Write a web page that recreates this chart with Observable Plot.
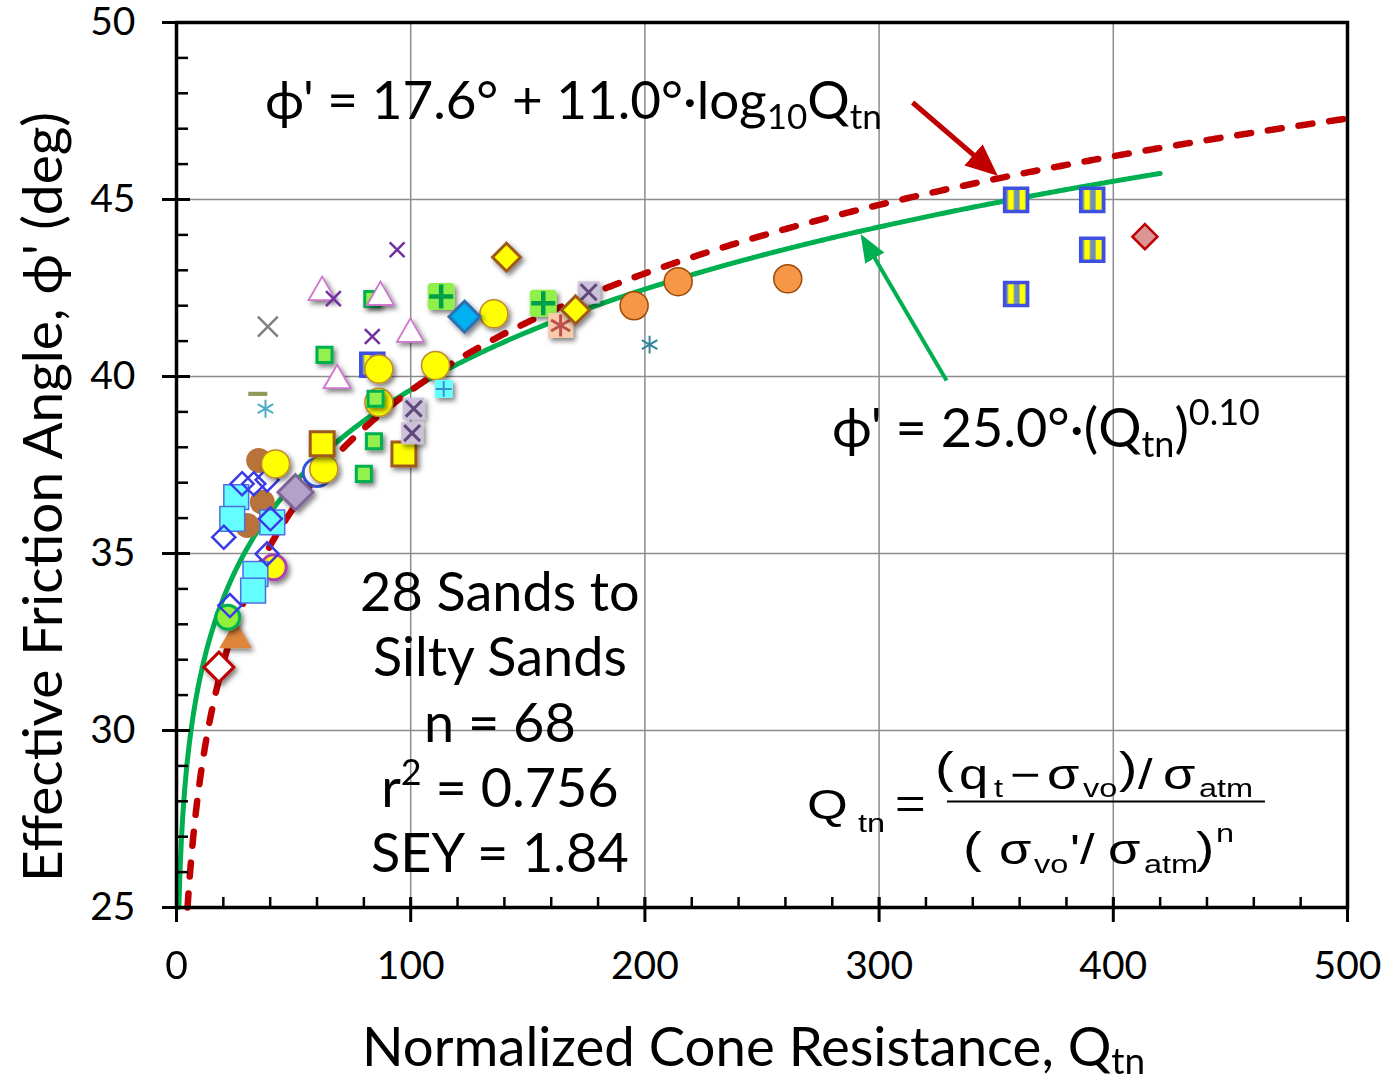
<!DOCTYPE html>
<html lang="en">
<head>
<meta charset="utf-8">
<title>Effective friction angle vs normalized cone resistance</title>
<script src="https://cdn.jsdelivr.net/npm/d3@7"></script>
<script src="https://cdn.jsdelivr.net/npm/@observablehq/plot@0.6"></script>
<style>
  html, body { margin: 0; padding: 0; background: #fff; }
  #chart svg { display: block; }
</style>
</head>
<body>
<div id="chart"></div>
<script>
// Fitted relations: ϕ' = A + B·log10(Qtn)  and  ϕ' = C·Qtn^P
const LOG_A = 17.6, LOG_B = 11.0;
const POW_C = 25.0, POW_P = 0.10;

const xTicksMajor = [0, 100, 200, 300, 400, 500];
const xTicksMinor = d3.range(0, 501, 20);
const yTicksMajor = [25, 30, 35, 40, 45, 50];
const yTicksMinor = d3.range(25, 51, 1);
const xGrid = [100, 200, 300, 400];
const yGrid = [30, 35, 40, 45];

// Test results, [Qtn, ϕ' (deg)], grouped by marker style
const stripedSquares      = [[358.5, 44.99], [391.0, 44.99], [391.0, 43.58], [358.5, 42.33], [83.6, 40.33]];
const blueRingCircle      = [[60.1, 37.29]];
const brownCircles        = [[35.1, 37.63], [36.6, 36.45], [30.2, 35.79]];
const purpleRimCircle     = [[41.5, 34.61]];
const orangeTriangle      = [[25.2, 32.59]];
const greenCircle         = [[21.9, 33.2]];
const cyanSquares         = [[25.5, 36.59], [23.8, 35.98], [40.9, 35.88], [33.7, 34.42], [32.7, 33.95]];
const blueOpenDiamonds    = [[28.0, 36.97], [33.0, 36.97], [38.7, 37.08], [40.1, 35.98], [20.2, 35.46], [38.7, 34.99], [22.8, 33.53]];
const redOpenDiamond      = [[18.1, 31.79]];
const lavenderDiamond     = [[50.8, 36.73]];
const yellowCircles       = [[86.4, 40.21], [110.6, 40.31], [86.4, 39.27], [42.3, 37.53], [62.9, 37.39], [135.5, 41.77]];
const greenSquares        = [[83.6, 42.19], [63.2, 40.61], [85.0, 39.37], [84.3, 38.17], [80.0, 37.25]];
const yellowSquares       = [[62.2, 38.1], [97.1, 37.81]];
const lavenderCrossSquares= [[101.3, 39.09], [100.6, 38.4], [176.0, 42.38]];
const pinkTriangles       = [[62.2, 42.38], [87.1, 42.24], [99.9, 41.2], [68.6, 39.89]];
const purpleCrosses       = [[94.2, 43.58], [67.0, 42.2], [83.6, 41.13]];
const grayCross           = [[39.0, 41.41]];
const cyanStar            = [[38.0, 39.09]];
const oliveDash           = [[34.7, 39.51]];
const cyanPlusSquare      = [[114.1, 39.65]];
const greenPlusSquares    = [[113.0, 42.26], [156.6, 42.07]];
const blueDiamond         = [[123.0, 41.69]];
const peachStarSquare     = [[164.0, 41.44]];
const yellowDiamonds      = [[140.9, 43.37], [170.4, 41.88]];
const orangeCircles       = [[195.4, 42.0], [214.2, 42.68], [261.0, 42.76]];
const tealStar            = [[202.0, 40.9]];
const roseDiamond         = [[413.5, 43.95]];

// Callout arrows, from tail to head, in (Qtn, ϕ')
const logArrow = [{q1: 314.3, p1: 47.74, q2: 348.6, p2: 45.79}];
const powArrow = [{q1: 328.8, p1: 39.89, q2: 293.3, p2: 43.89}];

// Fitted curves
const powCurve = d3.range(1, 420.001, 0.5).map(q => [q, POW_C * Math.pow(q, POW_P)]);
const logStart = Math.pow(10, (25 - LOG_A) / LOG_B);
const logCurve = [logStart, ...d3.range(5, 500.001, 0.5)].map(q => [q, LOG_A + LOG_B * Math.log10(q)]);

// Custom marker shapes
const roundedSquare = {
  draw(ctx, size) {
    const h = Math.sqrt(size) / 2, k = h * 0.28;
    ctx.moveTo(-h + k, -h); ctx.lineTo(h - k, -h); ctx.arcTo(h, -h, h, -h + k, k);
    ctx.lineTo(h, h - k); ctx.arcTo(h, h, h - k, h, k);
    ctx.lineTo(-h + k, h); ctx.arcTo(-h, h, -h, h - k, k);
    ctx.lineTo(-h, -h + k); ctx.arcTo(-h, -h, -h + k, -h, k);
    ctx.closePath();
  }
};
const dash = {
  draw(ctx, size) {
    const w = Math.sqrt(size / Math.PI);
    ctx.rect(-w, -w * 0.22, 2 * w, w * 0.44);
  }
};

// Draw order, bottom to top
const layers = [
  {data: stripedSquares, symbol: "square", r: 13, fill: "url(#stripes)", stroke: "#3f4fe0", strokeWidth: 3.5},
  {data: blueRingCircle, symbol: "circle", r: 14, fill: "#fff", stroke: "#3355dd", strokeWidth: 3},
  {data: brownCircles, symbol: "circle", r: 12.5, fill: "#b8733a", stroke: "none"},
  {data: purpleRimCircle, symbol: "circle", r: 12.5, fill: "#ffff00", stroke: "#b040b0", strokeWidth: 3, shadow: true},
  {data: orangeTriangle, symbol: "triangle2", r: 15.5, fill: "#dc853a", stroke: "none", shadow: true},
  {data: greenCircle, symbol: "circle", r: 12, fill: "#92f03c", stroke: "#00b050", strokeWidth: 3, shadow: true},
  {data: cyanSquares, symbol: "square", r: 14, fill: "#66ffff", stroke: "#4f6fe0", strokeWidth: 1.5},
  {data: blueOpenDiamonds, symbol: "diamond2", r: 10.4, fill: "none", stroke: "#3a3ae6", strokeWidth: 2.5},
  {data: redOpenDiamond, symbol: "diamond2", r: 13.5, fill: "#fff", stroke: "#c00000", strokeWidth: 3, shadow: true},
  {data: lavenderDiamond, symbol: "diamond2", r: 15.8, fill: "#b3a2c7", stroke: "#7f6499", strokeWidth: 3, shadow: true},
  {data: yellowCircles, symbol: "circle", r: 14, fill: "#ffff00", stroke: "#c08a2a", strokeWidth: 1.5, shadow: true},
  {data: greenSquares, symbol: "square", r: 8.5, fill: "#92f050", stroke: "#00b050", strokeWidth: 3, shadow: true},
  {data: yellowSquares, symbol: "square", r: 13.5, fill: "#ffff00", stroke: "#9c5a1c", strokeWidth: 3, shadow: true},
  {data: lavenderCrossSquares, symbol: "square", r: 12.4, fill: "#ccc0da", stroke: "none", shadow: true},
  {data: lavenderCrossSquares, symbol: "times", r: 7.3, fill: "none", stroke: "#5f497a", strokeWidth: 3},
  {data: pinkTriangles, symbol: "triangle2", r: 12.9, fill: "#fff", stroke: "#cc77cc", strokeWidth: 1.8, shadow: true},
  {data: purpleCrosses, symbol: "times", r: 6.8, fill: "none", stroke: "#7030a0", strokeWidth: 2.5},
  {data: grayCross, symbol: "times", r: 9.1, fill: "none", stroke: "#808080", strokeWidth: 2.5},
  {data: cyanStar, symbol: "asterisk", r: 8.5, fill: "none", stroke: "#4bacc6", strokeWidth: 2},
  {data: oliveDash, symbol: dash, r: 9.5, fill: "#8f9a58", stroke: "none"},
  {data: cyanPlusSquare, symbol: "square", r: 10.2, fill: "#66ffff", stroke: "none", shadow: true},
  {data: cyanPlusSquare, symbol: "plus", r: 5.2, fill: "none", stroke: "#3b8fcf", strokeWidth: 2},
  {data: greenPlusSquares, symbol: roundedSquare, r: 15.2, fill: "#8ef04a", stroke: "none", shadow: true},
  {data: greenPlusSquares, symbol: "plus", r: 7.8, fill: "none", stroke: "#00a04a", strokeWidth: 4.5},
  {data: blueDiamond, symbol: "diamond2", r: 14, fill: "#00b0f0", stroke: "#2e6fb0", strokeWidth: 3, shadow: true},
  {data: peachStarSquare, symbol: "square", r: 14.1, fill: "#f8cbad", stroke: "none", shadow: true},
  {data: peachStarSquare, symbol: "asterisk", r: 10.4, fill: "none", stroke: "#c0504d", strokeWidth: 3},
  {data: yellowDiamonds, symbol: "diamond2", r: 12.6, fill: "#ffff00", stroke: "#9c5a1c", strokeWidth: 3, shadow: true},
  {data: orangeCircles, symbol: "circle", r: 14, fill: "#f79646", stroke: "#9c4a06", strokeWidth: 1.5},
  {data: tealStar, symbol: "asterisk", r: 8.5, fill: "none", stroke: "#31849b", strokeWidth: 2},
  {data: roseDiamond, symbol: "diamond2", r: 11.3, fill: "#da9694", stroke: "#c00000", strokeWidth: 2.5}
];

const FONT = "Lato, 'Noto Sans', 'DejaVu Sans', sans-serif";

const chart = Plot.plot({
  width: 1384,
  height: 1082,
  marginLeft: 176,
  marginRight: 37,
  marginTop: 22,
  marginBottom: 175,
  x: {domain: [0, 500], axis: null},
  y: {domain: [25, 50], axis: null},
  style: {fontFamily: FONT, background: "#fff", color: "#000", overflow: "visible"},
  marks: [
    Plot.gridX(xGrid, {stroke: "#8c8c8c", strokeOpacity: 1, strokeWidth: 1.5}),
    Plot.gridY(yGrid, {stroke: "#8c8c8c", strokeOpacity: 1, strokeWidth: 1.5}),
    Plot.line(powCurve, {x: d => d[0], y: d => d[1], stroke: "#00b050", strokeWidth: 5}),
    Plot.line(logCurve, {x: d => d[0], y: d => d[1], stroke: "#c00000", strokeWidth: 6.5,
      strokeDasharray: "14,17", strokeLinecap: "round"}),
    ...layers.map(l => Plot.dot(l.data, {
      x: d => d[0], y: d => d[1], symbol: l.symbol, r: l.r,
      fill: l.fill, stroke: l.stroke, strokeWidth: l.strokeWidth ?? 1
    })),
    Plot.link(logArrow, {x1: "q1", y1: "p1", x2: "q2", y2: "p2", stroke: "#c00000", strokeWidth: 5}),
    Plot.link(powArrow, {x1: "q1", y1: "p1", x2: "q2", y2: "p2", stroke: "#00b050", strokeWidth: 4}),
    Plot.frame({stroke: "#000", strokeWidth: 3.5}),
    // minor and major tick marks
    Plot.axisX(xTicksMinor, {tickSize: 10, dy: -10, fill: "none", label: null, strokeWidth: 2.5}),
    Plot.axisX(xTicksMajor, {tickSize: 25, dy: -10, fill: "none", label: null, strokeWidth: 3}),
    Plot.axisY(yTicksMinor, {tickSize: 12, dx: 12, fill: "none", label: null, strokeWidth: 2.5}),
    Plot.axisY(yTicksMajor, {tickSize: 28, dx: 14, fill: "none", label: null, strokeWidth: 3}),
    // tick labels
    Plot.axisX(xTicksMajor, {tickSize: 0, tickPadding: 44, fontSize: 39, label: null}),
    Plot.axisY(yTicksMajor, {tickSize: 0, tickPadding: 41, fontSize: 39, label: null})
  ]
});

document.getElementById("chart").append(chart);

const svg = d3.select(chart);
const defs = svg.insert("defs", ":first-child");

// soft drop shadow used by the filled markers
const f = defs.append("filter").attr("id", "shadow")
  .attr("x", "-60%").attr("y", "-60%").attr("width", "220%").attr("height", "220%");
f.append("feDropShadow").attr("dx", 2.5).attr("dy", 3).attr("stdDeviation", 2.8)
  .attr("flood-color", "#000").attr("flood-opacity", 0.5);

// vertical yellow / steel-blue stripes
const pat = defs.append("pattern").attr("id", "stripes")
  .attr("patternUnits", "objectBoundingBox").attr("patternContentUnits", "objectBoundingBox")
  .attr("width", 0.5).attr("height", 1);
pat.append("rect").attr("width", 0.5).attr("height", 1).attr("fill", "#6f8fb4");
pat.append("rect").attr("x", 0.15).attr("width", 0.25).attr("height", 1).attr("fill", "#ffff00");

// filled arrowheads
function head(id, color, len, wid) {
  defs.append("marker").attr("id", id)
    .attr("viewBox", "0 0 10 10").attr("refX", 8).attr("refY", 5)
    .attr("markerUnits", "userSpaceOnUse").attr("markerWidth", len).attr("markerHeight", wid)
    .attr("orient", "auto").attr("preserveAspectRatio", "none")
    .append("path").attr("d", "M0,0L10,5L0,10Z").attr("fill", color);
}
head("headRed", "#c00000", 32, 28);
head("headGreen", "#00b050", 28, 22);
const linkGroups = svg.selectAll('g[aria-label="link"]').nodes();
d3.select(linkGroups[0]).selectAll("path").attr("marker-end", "url(#headRed)");
d3.select(linkGroups[1]).selectAll("path").attr("marker-end", "url(#headGreen)");

svg.selectAll('g[aria-label="dot"]').nodes().forEach((g, i) => {
  if (layers[i] && layers[i].shadow) g.setAttribute("filter", "url(#shadow)");
});

// ---- annotations ----
const X = v => chart.scale("x").apply(v);
const Y = v => chart.scale("y").apply(v);

function richText(parent, x, y, parts, attrs = {}) {
  const t = parent.append("text").attr("x", x).attr("y", y).attr("text-anchor", "start");
  for (const [k, v] of Object.entries(attrs)) t.attr(k, v);
  let shift = 0;
  for (const [str, size, off = 0] of parts) {
    t.append("tspan").attr("font-size", size).attr("dy", off - shift).text(str);
    shift = off;
  }
  return t;
}

const ann = svg.append("g").attr("font-family", FONT).attr("fill", "#000").attr("text-anchor", "start");

richText(ann, X(38), Y(47.26), [["ϕ' = 17.6° + 11.0°·log", 53], ["10", 35, 10], ["Q", 53], ["tn", 35, 10]]);
richText(ann, X(280.1), Y(38.0), [["ϕ' = 25.0°·(Q", 54], ["tn", 36, 10], [")", 54], ["0.10", 36, -22]]);

const summaryX = X(138.3), summaryTop = Y(33.36), summaryStep = 65.3;
const summary = [
  [["28 Sands to", 54]],
  [["Silty Sands", 54]],
  [["n = 68", 54]],
  [["r", 54], ["2", 36, -22], [" = 0.756", 54]],
  [["SEY = 1.84", 54]]
];
summary.forEach((parts, i) =>
  richText(ann, summaryX, summaryTop + i * summaryStep, parts, {"text-anchor": "middle"}));

// axis titles
richText(ann, 362, 1066, [["Normalized Cone Resistance, Q", 54.5], ["tn", 37, 8]]);
ann.append("text").attr("transform", "translate(62,497) rotate(-90)")
  .attr("text-anchor", "middle").attr("font-size", 55)
  .text("Effective Friction Angle, ϕ' (deg)");

// definition of Qtn
const SX = 1.25;
const fx0 = X(269.4), fy0 = Y(27.5);
const fg = svg.append("g").attr("transform", `translate(${fx0},${fy0}) scale(${SX},1)`)
  .attr("font-family", "'Liberation Sans', Arial, sans-serif").attr("fill", "#000")
  .attr("text-anchor", "start");
const piece = (s, dx, dy, size) => fg.append("text").attr("x", dx / SX).attr("y", dy).attr("font-size", size).text(s);
piece("Q", 0, 0, 42);
piece("tn", 51, 13, 26);
piece("=", 88, -1, 42);
piece("(", 128, -36, 45);
piece("q", 152, -30, 42);
piece("t", 187, -22, 26);
piece("−", 203, -30, 42);
piece("σ", 240, -30, 42);
piece("vo", 276, -22, 26);
piece(")", 312, -36, 44);
piece("/", 331, -30, 42);
piece("σ", 356, -30, 42);
piece("atm", 392, -22, 26);
fg.append("line").attr("x1", 140 / SX).attr("x2", 458 / SX).attr("y1", -17).attr("y2", -17)
  .attr("stroke", "#000").attr("stroke-width", 2);
piece("(", 156, 45, 45);
piece("σ", 192, 46, 42);
piece("vo", 227, 55, 26);
piece("'", 263, 46, 42);
piece("/", 273, 46, 42);
piece("σ", 301, 46, 42);
piece("atm", 337, 55, 26);
piece(")", 389, 45, 44);
piece("n", 409, 23, 26);
</script>
</body>
</html>
